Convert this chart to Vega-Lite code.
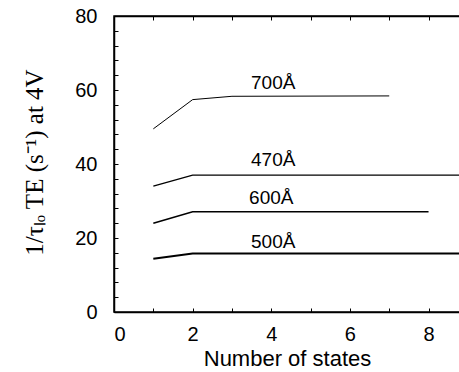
{
  "$schema": "https://vega.github.io/schema/vega-lite/v6.json",
  "width": 346,
  "height": 296,
  "autosize": "none",
  "padding": {"left": 114, "top": 16, "right": 0, "bottom": 60},
  "background": "white",
  "config": {
    "view": {"stroke": "black", "strokeWidth": 1.5},
    "axis": {
      "grid": false,
      "domainColor": "black",
      "domainWidth": 1.5,
      "tickColor": "black",
      "tickSize": -4,
      "tickWidth": 1,
      "labelColor": "black",
      "labelFont": "Liberation Sans",
      "labelFontSize": 20,
      "labelFontWeight": "normal",
      "titleColor": "black"
    }
  },
  "datasets": {
    "lines": [
      {"series": "700Å", "states": 1, "rate": 49.5},
      {"series": "700Å", "states": 2, "rate": 57.4},
      {"series": "700Å", "states": 3, "rate": 58.3},
      {"series": "700Å", "states": 7, "rate": 58.4},
      {"series": "470Å", "states": 1, "rate": 34},
      {"series": "470Å", "states": 2, "rate": 37},
      {"series": "470Å", "states": 8.8, "rate": 37},
      {"series": "600Å", "states": 1, "rate": 24},
      {"series": "600Å", "states": 2, "rate": 27.1},
      {"series": "600Å", "states": 8, "rate": 27.1},
      {"series": "500Å", "states": 1, "rate": 14.4},
      {"series": "500Å", "states": 2, "rate": 15.8},
      {"series": "500Å", "states": 8.8, "rate": 15.8}
    ],
    "labels": [
      {"label": "700Å", "states": 4.05, "rate": 61.9},
      {"label": "470Å", "states": 4.05, "rate": 41},
      {"label": "600Å", "states": 4.0, "rate": 30.8},
      {"label": "500Å", "states": 4.05, "rate": 19}
    ]
  },
  "resolve": {"axis": {"x": "independent"}},
  "layer": [
    {
      "data": {"name": "lines"},
      "mark": {"type": "line", "color": "black", "clip": true},
      "encoding": {
        "x": {
          "field": "states", "type": "quantitative",
          "scale": {"domain": [0, 8.8], "nice": false, "zero": false},
          "axis": {
            "orient": "bottom",
            "values": [0, 1, 2, 3, 4, 5, 6, 7, 8],
            "labelExpr": "datum.value % 2 == 0 ? datum.label : ''",
            "labelOverlap": false,
            "labelPadding": 16,
            "title": "Number of states",
            "titleFont": "Liberation Sans",
            "titleFontSize": 22,
            "titleFontWeight": "normal",
            "titlePadding": 4
          }
        },
        "y": {
          "field": "rate", "type": "quantitative",
          "scale": {"domain": [0, 80], "nice": false},
          "axis": {
            "values": [0, 4, 8, 12, 16, 20, 24, 28, 32, 36, 40, 44, 48, 52, 56, 60, 64, 68, 72, 76, 80],
            "labelExpr": "datum.value % 20 == 0 ? datum.label : ''",
            "labelOverlap": false,
            "labelPadding": 21,
            "title": "1/τₗₒ TE (s⁻¹) at 4V",
            "titleFont": "Liberation Serif",
            "titleFontSize": 25,
            "titleFontWeight": "normal",
            "titleAngle": -90,
            "titleAlign": "center",
            "titleBaseline": "middle",
            "titleX": -80,
            "titleY": 146
          }
        },
        "detail": {"field": "series", "type": "nominal"},
        "strokeWidth": {
          "field": "series", "type": "nominal",
          "scale": {"domain": ["700Å", "470Å", "600Å", "500Å"], "range": [1, 2, 1.5, 2]},
          "legend": null
        }
      }
    },
    {
      "data": {"name": "labels"},
      "mark": {"type": "text", "font": "Liberation Sans", "fontSize": 19, "color": "black"},
      "encoding": {
        "x": {
          "field": "states", "type": "quantitative",
          "scale": {"domain": [0, 8.8], "nice": false, "zero": false},
          "axis": {
            "orient": "top",
            "values": [0, 1, 2, 3, 4, 5, 6, 7, 8],
            "labels": false,
            "title": null
          }
        },
        "y": {
          "field": "rate", "type": "quantitative",
          "axis": {
            "values": [0, 4, 8, 12, 16, 20, 24, 28, 32, 36, 40, 44, 48, 52, 56, 60, 64, 68, 72, 76, 80],
            "labelExpr": "datum.value % 20 == 0 ? datum.label : ''",
            "labelOverlap": false,
            "labelPadding": 21,
            "title": "1/τₗₒ TE (s⁻¹) at 4V",
            "titleFont": "Liberation Serif",
            "titleFontSize": 25,
            "titleFontWeight": "normal",
            "titleAngle": -90,
            "titleAlign": "center",
            "titleBaseline": "middle",
            "titleX": -80,
            "titleY": 146
          }
        },
        "text": {"field": "label", "type": "nominal"}
      }
    }
  ]
}
